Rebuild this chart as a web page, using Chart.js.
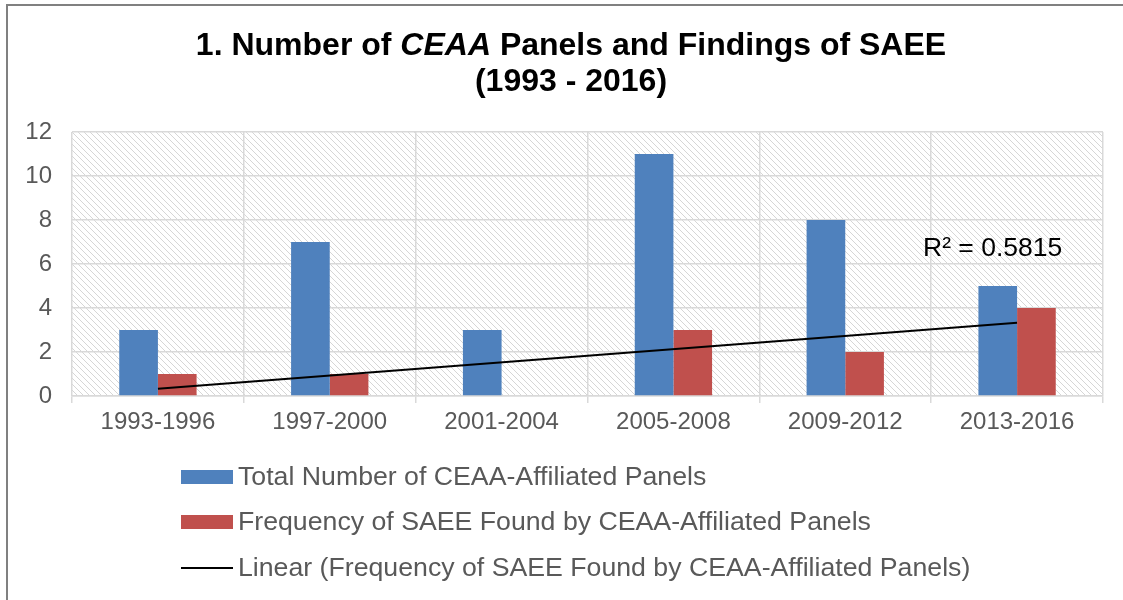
<!DOCTYPE html>
<html>
<head>
<meta charset="utf-8">
<script src="https://cdn.jsdelivr.net/npm/chart.js@4/dist/chart.umd.min.js"></script>
<style>
  html, body { margin: 0; padding: 0; background: #ffffff; }
  #wrap { position: relative; width: 1123px; height: 600px; }
  canvas { display: block; }
</style>
</head>
<body>
<div id="wrap"><canvas id="c" width="1123" height="600"></canvas></div>
<script>
// ---- data ----
const categories = ['1993-1996', '1997-2000', '2001-2004', '2005-2008', '2009-2012', '2013-2016'];
const totalPanels = [3, 7, 3, 11, 8, 5];
const saeeFrequency = [1, 1, 0, 3, 2, 4];
const trendline = [0.33, null, null, null, null, 3.33];
const yTickValues = [0, 2, 4, 6, 8, 10, 12];
const seriesLabels = [
  'Total Number of CEAA-Affiliated Panels',
  'Frequency of SAEE Found by CEAA-Affiliated Panels',
  'Linear (Frequency of SAEE Found by CEAA-Affiliated Panels)'
];
const titleLine1 = [['1. Number of ', false], ['CEAA', true], [' Panels and Findings of SAEE', false]];
const titleLine2 = '(1993 - 2016)';
const rSquaredText = 'R\u00B2 = 0.5815';

const FONT = '"Liberation Sans", Arial, sans-serif';
const GRID = '#d9d9d9';
const TEXT = '#595959';

function makeHatch() {
  const s = 6;
  const c = document.createElement('canvas');
  c.width = s; c.height = s;
  const g = c.getContext('2d');
  g.fillStyle = '#ffffff';
  g.fillRect(0, 0, s, s);
  g.strokeStyle = '#d6d6d6';
  g.lineWidth = 1;
  g.beginPath();
  g.moveTo(-1, -1); g.lineTo(s + 1, s + 1);
  g.moveTo(-1, s - 1); g.lineTo(1, s + 1);
  g.moveTo(s - 1, -1); g.lineTo(s + 1, 1);
  g.stroke();
  return c;
}

const backgroundPlugin = {
  id: 'bg',
  beforeDraw(chart) {
    const ctx = chart.ctx;
    const a = chart.chartArea;
    ctx.save();
    ctx.fillStyle = '#ffffff';
    ctx.fillRect(0, 0, chart.width, chart.height);
    ctx.fillStyle = ctx.createPattern(makeHatch(), 'repeat');
    ctx.fillRect(a.left, a.top, a.right - a.left, a.bottom - a.top);
    // frame (top and left edges)
    ctx.strokeStyle = '#808080';
    ctx.lineWidth = 2;
    ctx.beginPath();
    ctx.moveTo(7, 600); ctx.lineTo(7, 5); ctx.lineTo(1123, 5);
    ctx.stroke();
    ctx.restore();
  }
};

const decorPlugin = {
  id: 'decor',
  afterDraw(chart) {
    const ctx = chart.ctx;
    ctx.save();
    // title
    const cx = 571;
    const tf = 'bold 32px ' + FONT;
    ctx.fillStyle = '#000000';
    ctx.textBaseline = 'alphabetic';
    let total = 0;
    const widths = titleLine1.map(([t, it]) => {
      ctx.font = (it ? 'italic ' : '') + tf;
      const w = ctx.measureText(t).width; total += w; return w;
    });
    let x = cx - total / 2;
    titleLine1.forEach(([t, it], i) => {
      ctx.font = (it ? 'italic ' : '') + tf;
      ctx.textAlign = 'left';
      ctx.fillText(t, x, 55);
      x += widths[i];
    });
    ctx.font = tf;
    ctx.textAlign = 'center';
    ctx.fillText(titleLine2, cx, 91);

    // R squared label
    ctx.font = '26.5px ' + FONT;
    ctx.textAlign = 'left';
    ctx.textBaseline = 'middle';
    ctx.fillStyle = '#000000';
    ctx.fillText(rSquaredText, 923, 249);

    // legend
    const ds = chart.data.datasets;
    const rowsY = [477, 522, 568];
    ctx.font = '26.7px ' + FONT;
    ds.forEach((d, i) => {
      const y = rowsY[i];
      if (d.type === 'line') {
        ctx.strokeStyle = d.borderColor;
        ctx.lineWidth = 2;
        ctx.beginPath();
        ctx.moveTo(181, y); ctx.lineTo(233, y);
        ctx.stroke();
      } else {
        ctx.fillStyle = d.backgroundColor;
        ctx.fillRect(181, y - 7, 52, 14);
      }
      ctx.fillStyle = TEXT;
      ctx.textAlign = 'left';
      ctx.textBaseline = 'middle';
      ctx.fillText(d.label, 238, y + 1);
    });
    ctx.restore();
  }
};

new Chart(document.getElementById('c'), {
  type: 'bar',
  data: {
    labels: categories,
    datasets: [
      {
        label: seriesLabels[0],
        data: totalPanels,
        backgroundColor: '#4F81BD',
        categoryPercentage: 0.45,
        barPercentage: 1.0,
        order: 1
      },
      {
        label: seriesLabels[1],
        data: saeeFrequency,
        backgroundColor: '#C0504D',
        categoryPercentage: 0.45,
        barPercentage: 1.0,
        order: 2
      },
      {
        type: 'line',
        label: seriesLabels[2],
        data: trendline,
        borderColor: '#000000',
        backgroundColor: '#000000',
        borderWidth: 2,
        pointRadius: 0,
        spanGaps: true,
        fill: false,
        order: 0
      }
    ]
  },
  options: {
    responsive: false,
    animation: false,
    devicePixelRatio: 1,
    layout: { padding: { left: 0, right: 20, top: 132, bottom: 0 } },
    plugins: {
      legend: { display: false },
      title: { display: false },
      tooltip: { enabled: false }
    },
    scales: {
      x: {
        offset: true,
        grid: { offset: true, color: GRID, lineWidth: 1.5, tickLength: 7, drawTicks: true },
        border: { display: true, color: GRID, width: 1.5 },
        ticks: { color: TEXT, font: { family: FONT, size: 24 }, padding: 5, maxRotation: 0 },
        afterFit(scale) { scale.height = 204; }
      },
      y: {
        min: 0,
        max: 12,
        afterBuildTicks(scale) { scale.ticks = yTickValues.map(v => ({ value: v })); },
        grid: { color: GRID, lineWidth: 1.5, drawTicks: false },
        border: { display: false },
        ticks: { color: TEXT, font: { family: FONT, size: 24 }, padding: 20 },
        afterFit(scale) { scale.width = 72; }
      }
    }
  },
  plugins: [backgroundPlugin, decorPlugin]
});
</script>
</body>
</html>
